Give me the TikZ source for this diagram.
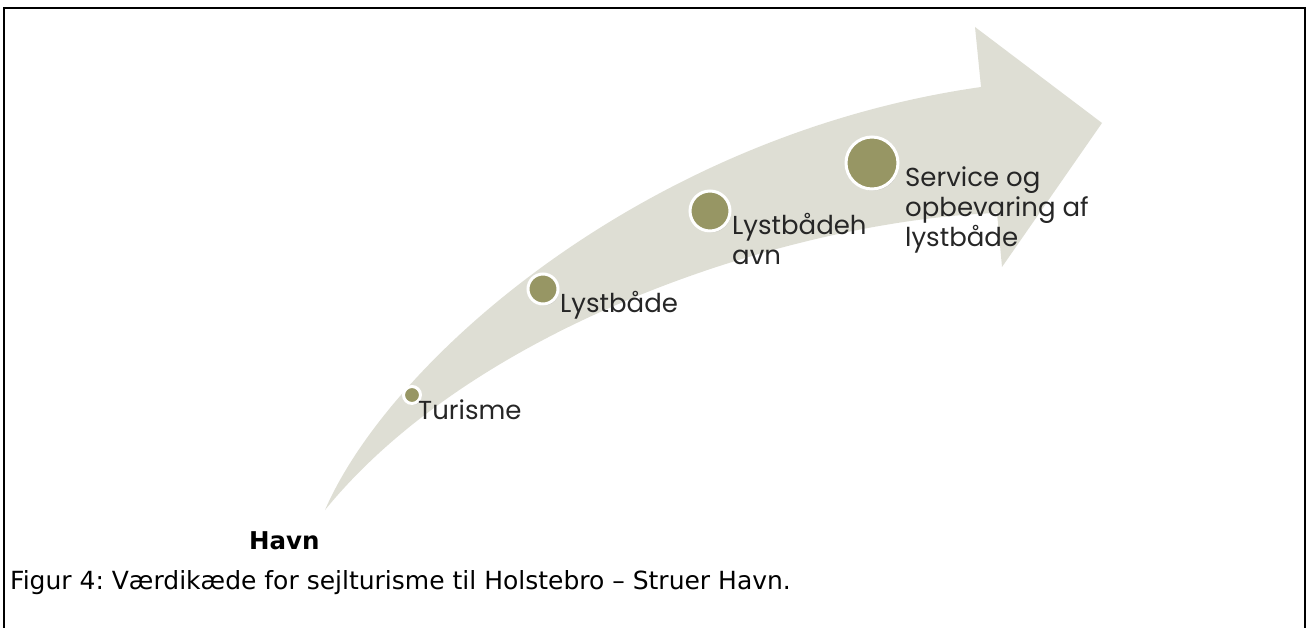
\documentclass[tikz,border=0pt]{standalone}
\usepackage{fontspec}
\setmainfont{DejaVu Sans}
\newfontfamily\gothic{Poppins}
\usetikzlibrary{shadows}
\frenchspacing

\definecolor{chainbg}{RGB}{222,222,212}
\definecolor{chaindotfill}{RGB}{151,150,100}

\tikzset{
  chaindot/.style={circle, fill=chaindotfill, draw=white, line width=3pt,
    inner sep=0pt, minimum size=#1,
    drop shadow={shadow xshift=1pt, shadow yshift=-1.5pt, opacity=.35}},
  chainlabel/.style={inner sep=0pt, align=left, text=black!85,
    font=\gothic\fontsize{26}{30}\selectfont}
}

\begin{document}
\begin{tikzpicture}[x=1pt, y=-1pt]
\useasboundingbox (0,0) rectangle (1310,628);
\draw[line width=1.5pt] (4,628) -- (4,8) -- (1305,8) -- (1305,628);
% the curved arrow
\fill[chainbg] (325,510) .. controls (390,360) and (645,135) .. (981,87) --
	(975,27) -- (1102,123) -- (1002,267) --
	(997,213) .. controls (800,220) and (480,320) .. (325,510) -- cycle;
% steps
\node[chaindot=17] (turisme) at (412,395) {};
\node[chaindot=30] (lystbaade) at (543,289) {};
\node[chaindot=40] (havn) at (710,211) {};
\node[chaindot=52] (service) at (872,163) {};
\node[chainlabel, anchor=base west] (turismetext) at (418,419) {Turisme};
\node[chainlabel, anchor=base west] (lystbaadetext) at (560,313) {Lystbåde};
\node[chainlabel, anchor=base west] (havntext) at (732,265) {Lystbådeh\\avn};
\node[chainlabel, anchor=base west] (servicetext) at (905,247) {Service og\\opbevaring af\\lystbåde};
% caption
\node[inner sep=0pt, anchor=base west, font=\bfseries\fontsize{24.5}{29}\selectfont] (start) at (249,549) {Havn};
\node[inner sep=0pt, anchor=base west, font=\fontsize{25}{29}\selectfont] (caption) at (10,589) {Figur 4: Værdikæde for sejlturisme til Holstebro – Struer Havn.};
\end{tikzpicture}
\end{document}
